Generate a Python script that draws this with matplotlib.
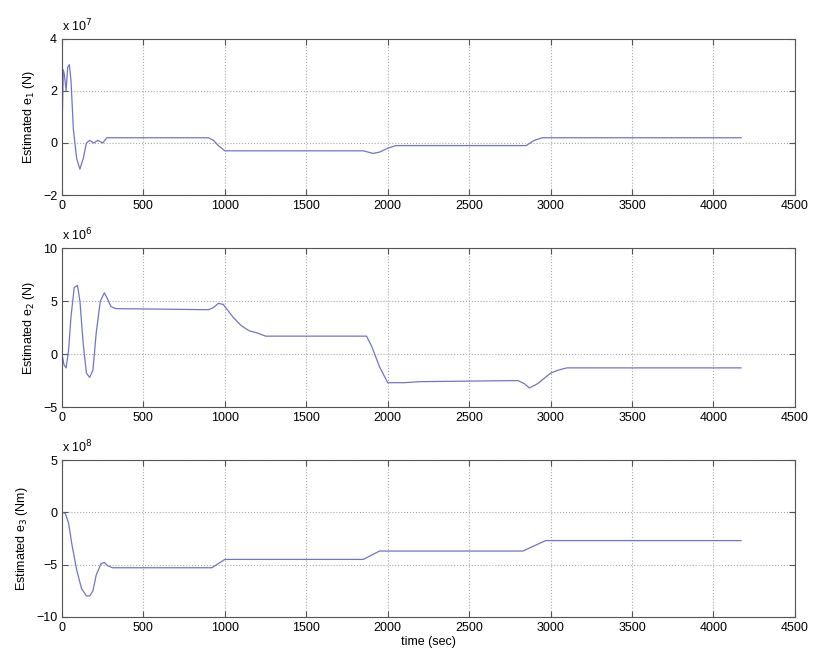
import matplotlib.pyplot as plt

# values (scaled by the multiplier shown above each axis)
t1 = [0, 8, 15, 25, 35, 45, 55, 70, 90, 110, 130, 150, 170, 195, 220, 250, 275, 300,
      900, 930, 960, 1000, 1030, 1850, 1880, 1910, 1950, 2000, 2050, 2100, 2850, 2900, 2950, 4170]
e1 = [0.5, 2.8, 2.6, 2.0, 2.9, 3.0, 2.4, 0.5, -0.6, -1.0, -0.6, 0.0, 0.1, 0.0, 0.1, 0.0, 0.2, 0.2,
      0.2, 0.1, -0.1, -0.3, -0.3, -0.3, -0.35, -0.4, -0.35, -0.2, -0.1, -0.1, -0.1, 0.1, 0.2, 0.2]

t2 = [0, 12, 25, 40, 55, 75, 95, 110, 130, 150, 170, 190, 210, 235, 260, 280, 300, 330,
      900, 930, 960, 990, 1050, 1100, 1150, 1200, 1250, 1870, 1900, 1950, 2000, 2100, 2200,
      2800, 2840, 2870, 2920, 3000, 3050, 3100, 4170]
e2 = [0.0, -1.0, -1.3, 0.3, 3.5, 6.3, 6.5, 5.0, 1.0, -1.8, -2.2, -1.5, 2.0, 5.0, 5.8, 5.2, 4.5, 4.3,
      4.2, 4.4, 4.8, 4.7, 3.5, 2.7, 2.2, 2.0, 1.7, 1.7, 0.8, -1.2, -2.7, -2.7, -2.6,
      -2.5, -2.8, -3.2, -2.8, -1.8, -1.5, -1.3, -1.3]

t3 = [0, 20, 40, 60, 90, 120, 150, 170, 190, 210, 240, 260, 280, 310,
      920, 960, 1000, 1850, 1900, 1950, 2830, 2900, 2970, 4170]
e3 = [0.0, -0.1, -1.0, -3.0, -5.5, -7.3, -8.0, -8.0, -7.5, -6.0, -4.9, -4.8, -5.1, -5.3,
      -5.3, -4.9, -4.5, -4.5, -4.1, -3.7, -3.7, -3.2, -2.7, -2.7]

ylabels = ["Estimated e$_1$ (N)", "Estimated e$_2$ (N)", "Estimated e$_3$ (Nm)"]
multipliers = ["7", "6", "8"]
ylims = [(-2, 4), (-5, 10), (-10, 5)]
yticks = [[-2, 0, 2, 4], [-5, 0, 5, 10], [-10, -5, 0, 5]]

plt.rcParams['font.family'] = ['Liberation Sans', 'DejaVu Sans']
fig = plt.figure(figsize=(8.16, 6.64), dpi=100)
rects = [(0.076, 0.706, 0.898, 0.236),
         (0.076, 0.387, 0.898, 0.239),
         (0.076, 0.071, 0.898, 0.236)]

for i, (t, e) in enumerate([(t1, e1), (t2, e2), (t3, e3)]):
    ax = fig.add_axes(rects[i])
    ax.plot(t, e, color="#7373c8", lw=0.9)
    ax.set_xlim(0, 4500)
    ax.set_ylim(*ylims[i])
    ax.set_yticks(yticks[i])
    ax.set_xticks(range(0, 4501, 500))
    ax.grid(True, linestyle=":", color="#aaaaaa", lw=0.8)
    ax.tick_params(direction="in", top=True, right=True, labelsize=9, length=4, color="#555555")
    for s in ax.spines.values():
        s.set_color("#555555")
    ax.set_ylabel(ylabels[i], fontsize=9)
    ax.text(0.0, 1.03, "x 10$^{%s}$" % multipliers[i], transform=ax.transAxes,
            fontsize=9, ha="left", va="bottom")
    if i == 2:
        ax.set_xlabel("time (sec)", fontsize=9, labelpad=2)

fig.savefig("out.png", dpi=100)
